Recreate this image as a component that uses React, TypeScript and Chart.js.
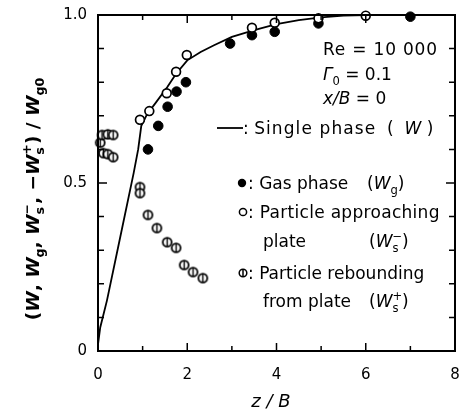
import React, { useEffect, useRef } from 'react';
import { Chart, registerables } from 'chart.js';
Chart.register(...registerables);

// ---- data (z/B, normalized velocity) ----
const singleZ = [0, 0.05, 0.2, 0.5, 0.8, 0.9, 0.97, 1.1, 1.3, 1.55, 1.75, 2.0, 2.3, 2.6, 3.0, 3.5, 4.0, 4.5, 5.0, 5.5, 6.0, 7.0, 8.0];
const singleW = [0.02, 0.07, 0.15, 0.34, 0.53, 0.6, 0.67, 0.705, 0.74, 0.785, 0.825, 0.865, 0.89, 0.91, 0.935, 0.955, 0.973, 0.985, 0.993, 0.998, 1.0, 1.0, 1.0];

const gasZ = [1.12, 1.35, 1.56, 1.76, 1.97, 2.96, 3.45, 3.96, 4.94, 7.0];
const gasW = [0.6, 0.67, 0.727, 0.772, 0.8, 0.915, 0.94, 0.95, 0.975, 0.995];

const approachZ = [0.94, 1.15, 1.54, 1.75, 1.99, 3.45, 3.96, 4.94, 6.0];
const approachW = [0.688, 0.714, 0.767, 0.831, 0.881, 0.962, 0.977, 0.99, 0.998];

const reboundZ = [0.05, 0.09, 0.22, 0.34, 0.12, 0.22, 0.34, 0.94, 0.94, 1.12, 1.32, 1.55, 1.75, 1.93, 2.13, 2.35];
const reboundW = [0.62, 0.643, 0.645, 0.643, 0.589, 0.586, 0.577, 0.488, 0.47, 0.405, 0.366, 0.324, 0.307, 0.256, 0.235, 0.217];

const xTickValues = [0, 2, 4, 6, 8];
const xTickLabels = ['0', '2', '4', '6', '8'];
const yTickValues = [0, 0.5, 1.0];
const yTickLabels = ['0', '0.5', '1.0'];

const FONT = '"DejaVu Sans", sans-serif';

type Part = { t: string; i?: boolean; b?: boolean; sub?: boolean; sup?: boolean; keep?: boolean; ls?: number };

function partFont(p: Part, size: number) {
  const s = p.sub || p.sup ? size * 0.68 : size;
  return `${p.i ? 'italic ' : ''}${p.b ? 'bold ' : ''}${s}px ${FONT}`;
}
function setPart(ctx: CanvasRenderingContext2D, p: Part, size: number) {
  ctx.font = partFont(p, size);
  (ctx as any).letterSpacing = `${p.ls || 0}px`;
}
function richWidth(ctx: CanvasRenderingContext2D, parts: Part[], size: number) {
  let w = 0;
  for (const p of parts) {
    setPart(ctx, p, size);
    if (!p.keep) w += ctx.measureText(p.t).width;
  }
  (ctx as any).letterSpacing = '0px';
  return w;
}
function drawRich(ctx: CanvasRenderingContext2D, parts: Part[], x: number, y: number, size: number) {
  let cx = x;
  for (const p of parts) {
    setPart(ctx, p, size);
    const dy = p.sub ? size * 0.28 : p.sup ? -size * 0.42 : 0;
    ctx.fillText(p.t, cx, y + dy);
    if (!p.keep) cx += ctx.measureText(p.t).width;
  }
  (ctx as any).letterSpacing = '0px';
}

function makePhi(r: number) {
  const size = Math.ceil(r * 2 + 4);
  const c = document.createElement('canvas');
  c.width = size;
  c.height = size;
  const g = c.getContext('2d')!;
  const m = size / 2;
  g.fillStyle = '#fff';
  g.strokeStyle = '#000';
  g.lineWidth = 1.8;
  g.beginPath();
  g.arc(m, m, r, 0, Math.PI * 2);
  g.fill();
  g.stroke();
  g.lineWidth = 1.4;
  g.beginPath();
  g.moveTo(m, m - r);
  g.lineTo(m, m + r);
  g.stroke();
  return c;
}

const decorPlugin = {
  id: 'decor',
  afterDraw(chart: any) {
    const ctx: CanvasRenderingContext2D = chart.ctx;
    const { left, right, top, bottom } = chart.chartArea;
    const xs = chart.scales.x;
    const ys = chart.scales.y;
    ctx.save();
    ctx.strokeStyle = '#000';
    ctx.fillStyle = '#000';
    // frame
    ctx.lineWidth = 2;
    ctx.strokeRect(left, top, right - left, bottom - top);
    // ticks
    ctx.lineWidth = 1.5;
    for (let v = 0; v <= 8; v++) {
      const px = xs.getPixelForValue(v);
      const len = v % 2 === 0 ? 8 : 5;
      ctx.beginPath();
      ctx.moveTo(px, bottom);
      ctx.lineTo(px, bottom - len);
      ctx.moveTo(px, top);
      ctx.lineTo(px, top + len);
      ctx.stroke();
    }
    for (let k = 0; k <= 10; k++) {
      const py = ys.getPixelForValue(k / 10);
      const len = k % 5 === 0 ? 9 : 6;
      ctx.beginPath();
      ctx.moveTo(left, py);
      ctx.lineTo(left + len, py);
      ctx.moveTo(right, py);
      ctx.lineTo(right - len, py);
      ctx.stroke();
    }
    // tick labels
    ctx.font = `15px ${FONT}`;
    ctx.textBaseline = 'middle';
    ctx.textAlign = 'center';
    xTickValues.forEach((v, i) => ctx.fillText(xTickLabels[i], xs.getPixelForValue(v), bottom + 24));
    ctx.textAlign = 'right';
    yTickValues.forEach((v, i) => ctx.fillText(yTickLabels[i], left - 11, ys.getPixelForValue(v)));

    // axis titles
    ctx.textAlign = 'left';
    ctx.textBaseline = 'alphabetic';
    const xt: Part[] = [{ t: 'z / B', i: true }];
    const xw = richWidth(ctx, xt, 18);
    drawRich(ctx, xt, 271 - xw / 2, bottom + 56, 18);

    const yt: Part[] = [
      { t: '(', b: true }, { t: 'W', i: true, b: true }, { t: ', ', b: true },
      { t: 'W', i: true, b: true }, { t: 'g', sub: true, b: true }, { t: ', ', b: true },
      { t: 'W', i: true, b: true }, { t: 's', sub: true, keep: true, b: true }, { t: '\u2212', sup: true, b: true }, { t: ', \u2212', b: true },
      { t: 'W', i: true, b: true }, { t: 's', sub: true, keep: true, b: true }, { t: '+', sup: true, b: true }, { t: ')', b: true },
      { t: ' / ', b: true }, { t: 'W', i: true, b: true }, { t: 'g0', sub: true, b: true },
    ];
    const ysz = 18.5;
    const yw = richWidth(ctx, yt, ysz);
    ctx.save();
    ctx.translate(39, 199);
    ctx.rotate(-Math.PI / 2);
    drawRich(ctx, yt, -yw / 2, 0, ysz);
    ctx.restore();

    // annotations
    const fs = 17;
    drawRich(ctx, [{ t: 'Re = 10 000', ls: 0.8 }], 323, 55, fs);
    drawRich(ctx, [{ t: '\u0393', i: true }, { t: '0', sub: true }, { t: ' = 0.1' }], 323, 80, fs);
    drawRich(ctx, [{ t: 'x/B', i: true }, { t: ' = 0' }], 323, 104, fs);

    // legend
    ctx.lineWidth = 1.8;
    ctx.beginPath();
    ctx.moveTo(217, 128);
    ctx.lineTo(243, 128);
    ctx.stroke();
    drawRich(ctx, [{ t: ': ' }, { t: 'Single phase', ls: 1.1 }, { t: '  (  ' }, { t: 'W', i: true }, { t: ' )' }], 243, 134, fs);

    ctx.beginPath();
    ctx.arc(242, 183, 4.2, 0, Math.PI * 2);
    ctx.fill();
    drawRich(ctx, [{ t: ': Gas phase' }], 248, 189, fs);
    drawRich(ctx, [{ t: '(' }, { t: 'W', i: true }, { t: 'g', sub: true }, { t: ')' }], 367, 189, fs);

    ctx.lineWidth = 1.5;
    ctx.beginPath();
    ctx.arc(243, 212, 3.6, 0, Math.PI * 2);
    ctx.stroke();
    drawRich(ctx, [{ t: ': Particle approaching', ls: 0.3 }], 248, 218, fs);
    drawRich(ctx, [{ t: 'plate' }], 263, 247, fs);
    drawRich(ctx, [{ t: '(' }, { t: 'W', i: true }, { t: 's', sub: true, keep: true }, { t: '\u2212', sup: true }, { t: ')' }], 369, 247, fs);

    ctx.beginPath();
    ctx.arc(243, 273, 3.8, 0, Math.PI * 2);
    ctx.stroke();
    ctx.beginPath();
    ctx.moveTo(243, 269);
    ctx.lineTo(243, 277);
    ctx.stroke();
    drawRich(ctx, [{ t: ': Particle rebounding' }], 248, 279, fs);
    drawRich(ctx, [{ t: 'from plate' }], 263, 307, fs);
    drawRich(ctx, [{ t: '(' }, { t: 'W', i: true }, { t: 's', sub: true, keep: true }, { t: '+', sup: true }, { t: ')' }], 369, 307, fs);

    ctx.restore();
  },
};

export default function App() {
  const ref = useRef<HTMLCanvasElement>(null);
  useEffect(() => {
    const toPts = (zs: number[], ws: number[]) => zs.map((z, i) => ({ x: z, y: ws[i] }));
    const chart = new Chart(ref.current!, {
      type: 'scatter',
      data: {
        datasets: [
          {
            type: 'line',
            label: 'Single phase',
            data: toPts(singleZ, singleW),
            borderColor: '#000',
            borderWidth: 1.8,
            pointRadius: 0,
            tension: 0,
            fill: false,
            order: 3,
            clip: 10,
          } as any,
          {
            label: 'Gas phase',
            data: toPts(gasZ, gasW),
            pointStyle: 'circle',
            pointRadius: 4.8,
            backgroundColor: '#000',
            borderColor: '#000',
            borderWidth: 1,
            order: 1,
            clip: 10,
          } as any,
          {
            label: 'Particle approaching plate',
            data: toPts(approachZ, approachW),
            pointStyle: 'circle',
            pointRadius: 4.4,
            backgroundColor: '#fff',
            borderColor: '#000',
            borderWidth: 1.7,
            order: 0,
            clip: 10,
          } as any,
          {
            label: 'Particle rebounding from plate',
            data: toPts(reboundZ, reboundW),
            pointStyle: makePhi(4.4),
            pointRadius: 5,
            order: 2,
            clip: 10,
          } as any,
        ],
      },
      options: {
        animation: false,
        responsive: false,
        layout: { padding: { left: 98, right: 10, top: 15, bottom: 64 } },
        plugins: { legend: { display: false }, tooltip: { enabled: false } },
        scales: {
          x: { type: 'linear', min: 0, max: 8, display: false },
          y: { type: 'linear', min: 0, max: 1, display: false },
        },
      },
      plugins: [decorPlugin],
    });
    return () => chart.destroy();
  }, []);
  return (
    <div style={{ position: 'fixed', left: 0, top: 0, width: 465, height: 415, background: '#fff' }}>
      <canvas ref={ref} width={465} height={415} style={{ display: 'block' }} />
    </div>
  );
}
